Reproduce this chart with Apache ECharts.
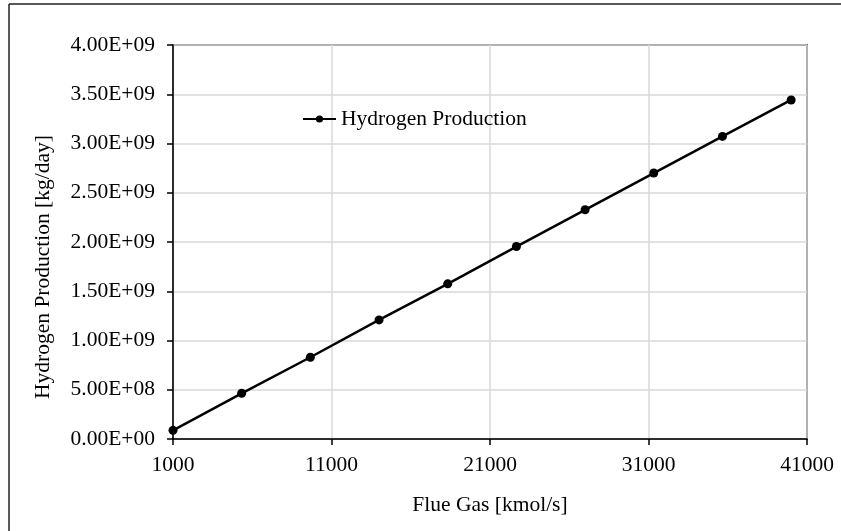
<!DOCTYPE html>
<html>
<head>
<meta charset="utf-8">
<title>Hydrogen Production vs Flue Gas</title>
<script src="https://cdn.jsdelivr.net/npm/echarts@6/dist/echarts.min.js"></script>
<style>
  html, body { margin: 0; padding: 0; background: #fff; }
  #chart { width: 841px; height: 531px; }
</style>
</head>
<body>
<div id="chart"></div>
<script>
// Flue gas flow rate [kmol/s]
const flueGas = [1000, 5333, 9667, 14000, 18333, 22667, 27000, 31333, 35667, 40000];
// Hydrogen production [kg/day]
const hydrogen = [0.088e9, 0.464e9, 0.830e9, 1.209e9, 1.575e9, 1.954e9, 2.327e9, 2.700e9, 3.072e9, 3.442e9];
const seriesName = 'Hydrogen Production';
const xTitle = 'Flue Gas [kmol/s]';
const yTitle = 'Hydrogen Production [kg/day]';

const FONT = '"Liberation Serif", "Times New Roman", serif';
const FS = 21.5;

// Scientific notation with a two-digit exponent, e.g. 3.50E+09
function sci(v) {
  if (v === 0) return '0.00E+00';
  const exp = Math.floor(Math.log10(Math.abs(v)));
  const mant = v / Math.pow(10, exp);
  const e = Math.abs(exp);
  return mant.toFixed(2) + 'E' + (exp < 0 ? '-' : '+') + (e < 10 ? '0' + e : e);
}

const chart = echarts.init(document.getElementById('chart'), null, { renderer: 'canvas' });

chart.setOption({
  backgroundColor: '#ffffff',
  animation: false,
  textStyle: { fontFamily: FONT, color: '#000' },
  grid: {
    left: 173, right: 34, top: 45, bottom: 92,
    show: true, borderColor: '#000', borderWidth: 1.5,
    backgroundColor: 'transparent'
  },
  legend: {
    left: 302, top: 108, padding: 0,
    itemWidth: 33, itemHeight: 9,
    data: [seriesName],
    textStyle: { fontFamily: FONT, fontSize: FS, color: '#000', lineHeight: 22 }
  },
  xAxis: {
    type: 'value',
    min: 1000, max: 41000, interval: 10000,
    name: xTitle,
    nameLocation: 'middle',
    nameGap: 55,
    nameTextStyle: { fontFamily: FONT, fontSize: FS, color: '#000' },
    axisLine: { show: true, onZero: false, lineStyle: { color: '#000', width: 1.5 } },
    axisTick: { show: true, length: 6, lineStyle: { color: '#000', width: 1.5 } },
    axisLabel: { fontFamily: FONT, fontSize: FS, color: '#000', margin: 15, formatter: v => String(v) },
    splitLine: { show: true, lineStyle: { color: '#d9d9d9', width: 1.5 } }
  },
  yAxis: {
    type: 'value',
    min: 0, max: 4e9, interval: 5e8,
    axisLine: { show: true, lineStyle: { color: '#000', width: 1.5 } },
    axisTick: { show: true, length: 6, lineStyle: { color: '#000', width: 1.5 } },
    axisLabel: { fontFamily: FONT, fontSize: FS, color: '#000', margin: 18, formatter: sci },
    splitLine: { show: true, lineStyle: { color: '#d9d9d9', width: 1.5 } }
  },
  graphic: [
    // outer frame (top and left edges)
    { type: 'line', shape: { x1: 9, y1: 4, x2: 841, y2: 4 }, style: { stroke: '#222', lineWidth: 1.5 }, silent: true },
    { type: 'line', shape: { x1: 9, y1: 4, x2: 9, y2: 531 }, style: { stroke: '#222', lineWidth: 1.5 }, silent: true },
    // vertical axis title
    {
      type: 'text', x: 43.5, y: 267, rotation: Math.PI / 2,
      style: {
        text: yTitle, fontFamily: FONT, fontSize: FS, fill: '#000',
        align: 'center', verticalAlign: 'middle'
      },
      silent: true
    }
  ],
  series: [{
    name: seriesName,
    type: 'line',
    data: flueGas.map((x, i) => [x, hydrogen[i]]),
    clip: false,
    symbol: 'circle',
    symbolSize: 9,
    itemStyle: { color: '#000' },
    lineStyle: { color: '#000', width: 2.5 }
  }]
});
</script>
</body>
</html>
